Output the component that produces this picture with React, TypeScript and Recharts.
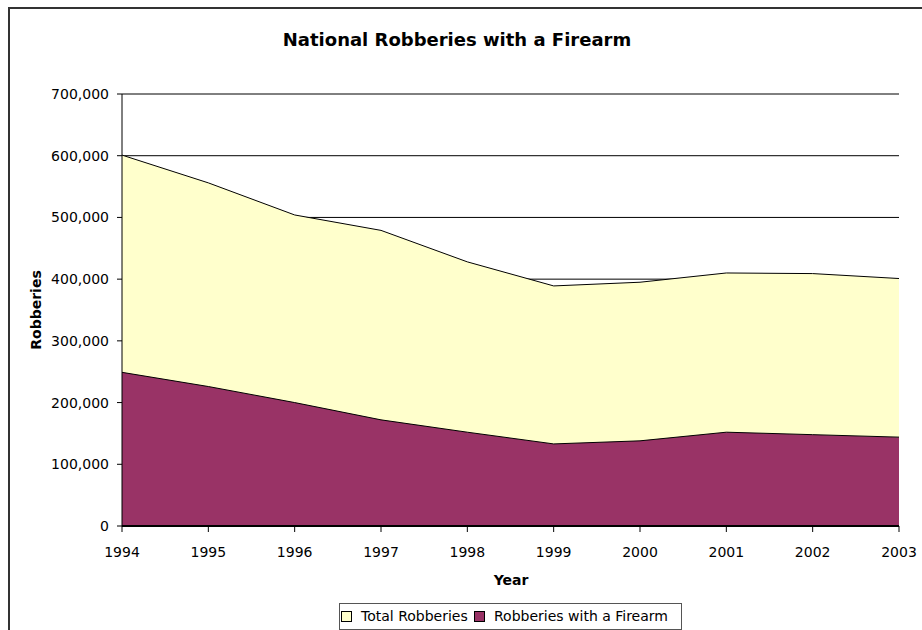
import React from 'react';
import { AreaChart, Area, XAxis, YAxis, CartesianGrid } from 'recharts';

const years = ['1994', '1995', '1996', '1997', '1998', '1999', '2000', '2001', '2002', '2003'];
const totalRobberies = [601000, 556000, 504000, 479000, 428000, 389000, 395000, 410000, 409000, 401000];
const firearmRobberies = [249000, 226000, 200000, 172000, 152000, 133000, 138000, 152000, 148000, 144000];
const yTicks = [0, 100000, 200000, 300000, 400000, 500000, 600000, 700000];

const series = [
  { key: 'total', name: 'Total Robberies', color: '#FFFFCC' },
  { key: 'firearm', name: 'Robberies with a Firearm', color: '#993366' },
];

const title = 'National Robberies with a Firearm';
const xTitle = 'Year';
const yTitle = 'Robberies';

const data = years.map((y, i) => ({ year: y, total: totalRobberies[i], firearm: firearmRobberies[i] }));

const FONT = '"DejaVu Sans", Verdana, sans-serif';
const W = 922;
const H = 630;

const fmt = (v: number) => v.toLocaleString('en-US');

const legendX = [341, 474];

const XTick = (props: any) => {
  const { x, y, payload } = props;
  return (
    <text x={x} y={y} dy="0.71em" textAnchor="middle" fontFamily={FONT} fontSize={14} fill="#000">
      {payload.value}
    </text>
  );
};

const YTick = (props: any) => {
  const { x, y, payload } = props;
  return (
    <text x={x} y={y} dy="0.36em" textAnchor="end" fontFamily={FONT} fontSize={14} fill="#000">
      {fmt(payload.value)}
    </text>
  );
};

export default function App() {
  return (
    <div style={{ position: 'fixed', left: 0, top: 0, width: W, height: H, overflow: 'hidden', background: '#fff' }}>
      <div style={{ position: 'absolute', left: 0, top: 0 }}>
        <AreaChart width={W} height={H} data={data} margin={{ top: 94, right: 23, bottom: 74, left: 0 }}>
          <CartesianGrid yAxisId="left" vertical={false} stroke="#000" strokeWidth={1} />
          <XAxis
            dataKey="year"
            height={30}
            tickSize={6}
            tickMargin={15}
            tick={<XTick />}
            axisLine={{ stroke: '#000', strokeWidth: 2 }}
            tickLine={{ stroke: '#000' }}
            interval={0}
          />
          <YAxis
            yAxisId="left"
            type="number"
            domain={[0, 700000]}
            ticks={yTicks}
            width={122}
            tickSize={5}
            tickMargin={8}
            tick={<YTick />}
            axisLine={{ stroke: '#000' }}
            tickLine={{ stroke: '#000' }}
            interval={0}
          />
          <YAxis
            yAxisId="right"
            orientation="right"
            type="number"
            domain={[0, 700000]}
            width={0}
            tick={false}
            tickLine={false}
            axisLine={{ stroke: '#444', strokeWidth: 1.5 }}
          />
          {series.map((s) => (
            <Area
              key={s.key}
              yAxisId="left"
              type="linear"
              dataKey={s.key}
              name={s.name}
              stroke="#000"
              strokeWidth={1}
              fill={s.color}
              fillOpacity={1}
              isAnimationActive={false}
              dot={false}
              activeDot={false}
            />
          ))}
        </AreaChart>
      </div>
      <svg width={W} height={H} style={{ position: 'absolute', left: 0, top: 0, pointerEvents: 'none' }}>
        <rect x={9} y={8} width={W + 20} height={H + 20} fill="none" stroke="#333" strokeWidth={2} />
        <text x={457} y={46} textAnchor="middle" fontFamily={FONT} fontSize={18} fontWeight="bold" fill="#000">
          {title}
        </text>
        <text x={511} y={585} textAnchor="middle" fontFamily={FONT} fontSize={14} fontWeight="bold" fill="#000">
          {xTitle}
        </text>
        <text
          x={41}
          y={310}
          textAnchor="middle"
          fontFamily={FONT}
          fontSize={14}
          fontWeight="bold"
          fill="#000"
          transform="rotate(-90 41 310)"
        >
          {yTitle}
        </text>
        <rect x={339.5} y={603.5} width={342} height={26} fill="#fff" stroke="#555" strokeWidth={1} />
        {series.map((s, i) => (
          <g key={s.key}>
            <rect x={legendX[i] + 0.5} y={611.5} width={10} height={10} fill={s.color} stroke="#000" strokeWidth={1} />
            <text x={legendX[i] + 20} y={621} fontFamily={FONT} fontSize={14} fill="#000">
              {s.name}
            </text>
          </g>
        ))}
      </svg>
    </div>
  );
}
